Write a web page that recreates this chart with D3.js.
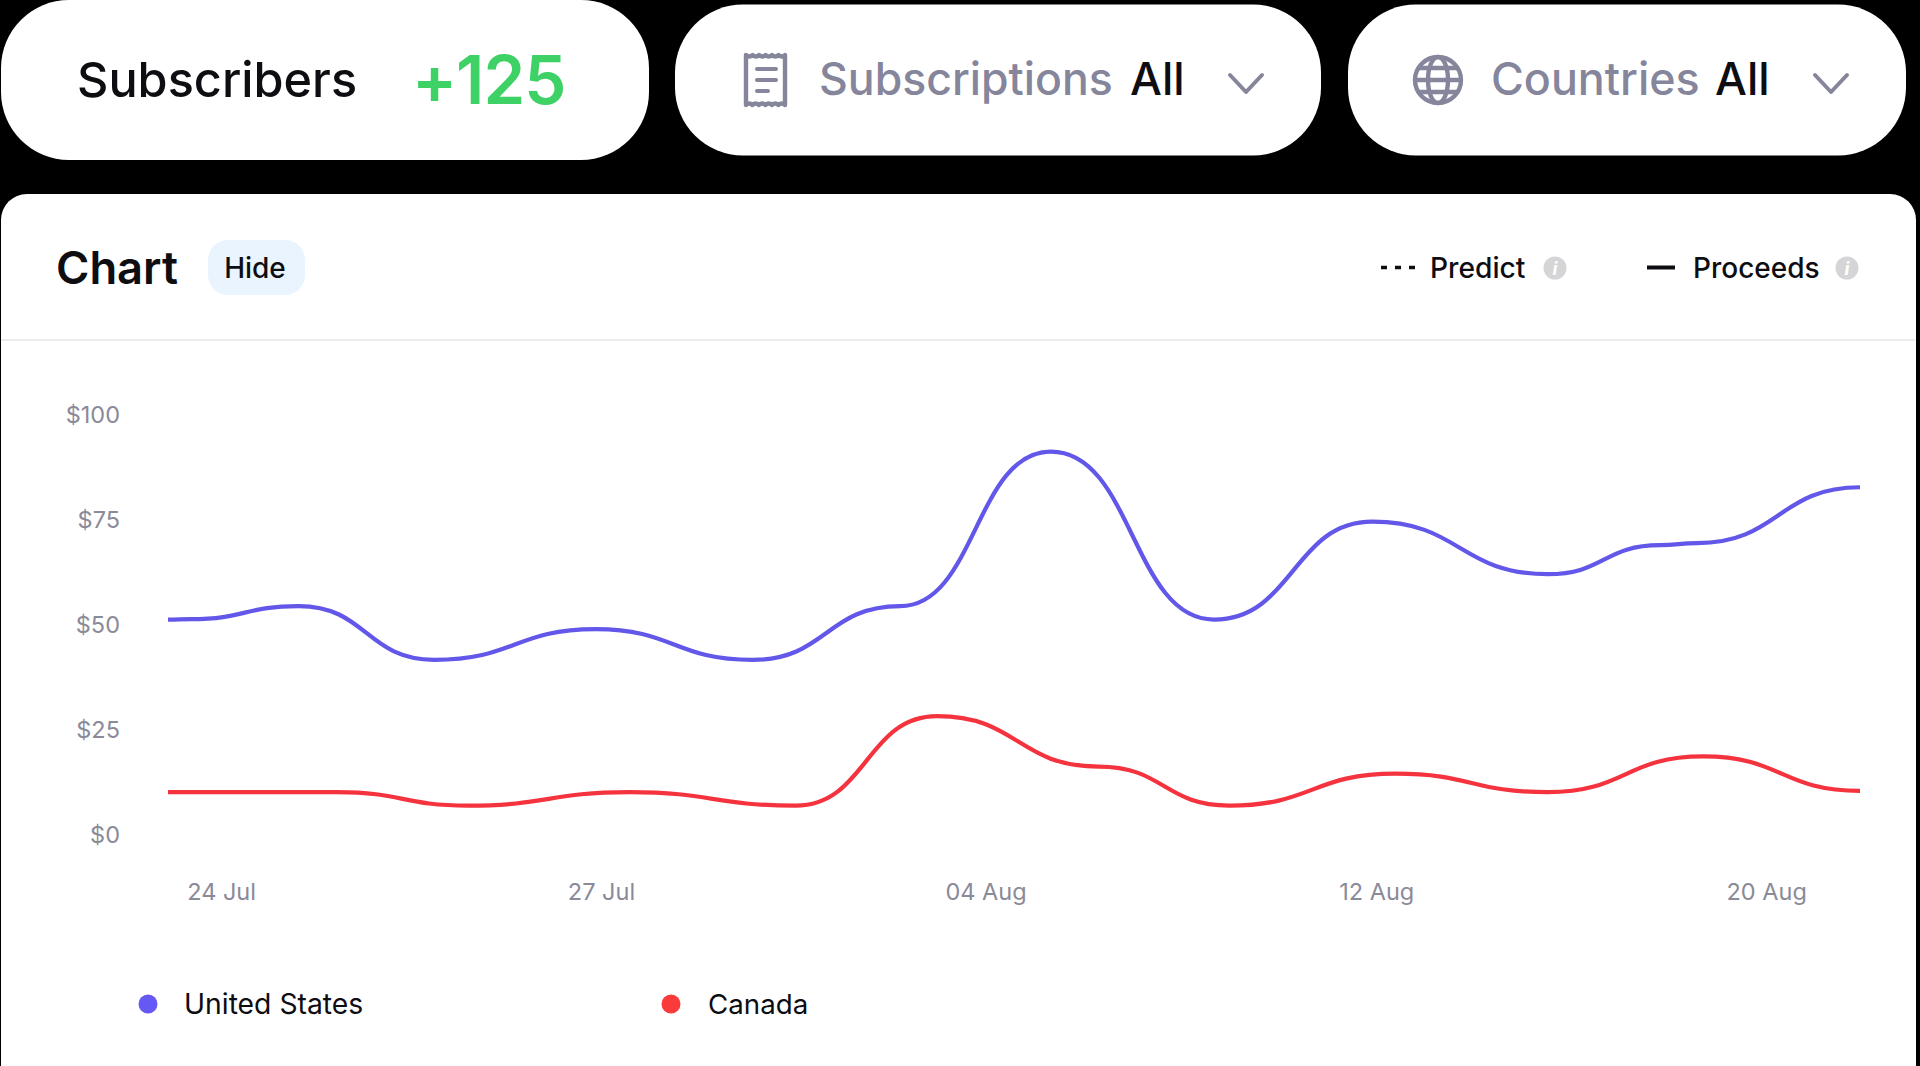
<!DOCTYPE html>
<html><head><meta charset="utf-8">
<script src="https://cdn.jsdelivr.net/npm/d3@7"></script>
<style>
html,body{margin:0;padding:0;background:#000;overflow:hidden}
svg{display:block}
text{font-family:Inter,"Noto Sans",sans-serif}
.axis path,.axis line{display:none}
</style></head><body>
<svg id="c" width="1920" height="1066"></svg>
<script>
const usSteps = [0, 0.15, 0.85, 1.73, 2.78, 3.8, 4.76, 5.74, 6.8, 7.83, 8.97, 9.7, 9.94, 11];
const usValues = [51.3, 51.4, 54.5, 41.7, 49, 41.7, 54.5, 91.3, 51.3, 74.6, 62.1, 69.0, 69.5, 82.8];
const caSteps = [0, 1.1, 1.95, 3.0, 4.08, 5.0, 6.05, 6.9, 7.98, 8.97, 9.98, 11];
const caValues = [10.2, 10.2, 7, 10.2, 7, 28.3, 16.3, 7, 14.6, 10.2, 18.7, 10.5];
const yTicks = [0, 25, 50, 75, 100];
const xTickSteps = [0.345, 2.815, 5.315, 7.855, 10.39];
const xTickLabels = ["24 Jul", "27 Jul", "04 Aug", "12 Aug", "20 Aug"];
const seriesNames = ["United States", "Canada"];
const seriesColors = ["#6257e8", "#f5333f"];

const svg = d3.select("#c");
const INK = "#0d0d12", GREY = "#85859b", AXIS = "#8a8a99";
const txt = (x, y, s, size, weight, fill, anchor) => svg.append("text")
  .attr("x", x).attr("y", y).attr("font-size", size).attr("font-weight", weight)
  .attr("fill", fill).attr("text-anchor", anchor || "start").text(s);
const box = (x, y, w, h, r, fill) => svg.append("rect")
  .attr("x", x).attr("y", y).attr("width", w).attr("height", h).attr("rx", r).attr("fill", fill);

// Header pills
box(1, 0, 648, 160, 68, "#fff");
box(675, 4.5, 646, 151, 68, "#fff");
box(1348, 4.5, 558, 151, 68, "#fff");
txt(77, 97, "Subscribers", 48.6, 500, INK);
txt(412, 103.5, "+125", 67, 600, "#3ed266").attr("letter-spacing", -1);
txt(819, 95, "Subscriptions", 44.6, 500, GREY);
txt(1130, 95, "All", 45, 500, INK);
txt(1491, 95, "Countries", 44.8, 500, GREY);
txt(1715, 95, "All", 45, 500, INK);

// Receipt icon
svg.append("path").attr("fill", "none").attr("stroke", GREY).attr("stroke-width", 4.4).attr("stroke-linejoin", "round")
  .attr("d", "M746 55q3.5 3 6.5 0q3.5 3 6.5 0q3.5 3 6.5 0q3.5 3 6.5 0q3.5 3 6.5 0q3.5 3 6.5 0V105q-3.5 -3 -6.5 0q-3.5 -3 -6.5 0q-3.5 -3 -6.5 0q-3.5 -3 -6.5 0q-3.5 -3 -6.5 0q-3.5 -3 -6.5 0Z");
svg.append("path").attr("fill", "none").attr("stroke", GREY).attr("stroke-width", 4).attr("stroke-linecap", "round")
  .attr("d", "M757 69H776M757 80H776M757 91H768");
// Globe icon
const globe = svg.append("g").attr("fill", "none").attr("stroke", GREY).attr("stroke-width", 4.4);
globe.append("circle").attr("cx", 1438).attr("cy", 80).attr("r", 23);
globe.append("ellipse").attr("cx", 1438).attr("cy", 80).attr("rx", 10).attr("ry", 23);
globe.append("path").attr("d", "M1415 80H1461M1419 68H1457M1419 92H1457");
// Chevrons
[1246, 1831].forEach(cx => svg.append("path").attr("fill", "none").attr("stroke", GREY)
  .attr("stroke-width", 4).attr("stroke-linecap", "round").attr("stroke-linejoin", "round")
  .attr("d", `M${cx-16} 75L${cx} 92L${cx+16} 75`));

// Card
box(1, 194, 1915, 900, 26, "#fff");
svg.append("line").attr("x1", 1).attr("x2", 1915).attr("y1", 340).attr("y2", 340).attr("stroke", "#ececee").attr("stroke-width", 2);
txt(56, 283.5, "Chart", 45.3, 600, INK);
box(208, 240, 97, 55, 20, "#e9f4fe");
txt(255, 278, "Hide", 28, 500, INK, "middle");

// Top legend
svg.append("line").attr("x1", 1381).attr("x2", 1415).attr("y1", 267.5).attr("y2", 267.5)
  .attr("stroke", INK).attr("stroke-width", 3.4).attr("stroke-dasharray", "6 8");
txt(1430, 278, "Predict", 28.2, 500, INK);
svg.append("line").attr("x1", 1647).attr("x2", 1675).attr("y1", 267.5).attr("y2", 267.5)
  .attr("stroke", INK).attr("stroke-width", 4);
txt(1693, 278, "Proceeds", 28, 500, INK);
[1555, 1847].forEach(cx => {
  svg.append("circle").attr("cx", cx).attr("cy", 268).attr("r", 11.5).attr("fill", "#d5d5d7");
  txt(cx, 275, "i", 18, 700, "#fff", "middle").attr("font-style", "italic");
});

// Chart
const x = d3.scaleLinear().domain([0, 11]).range([168, 1860]);
const y = d3.scaleLinear().domain([0, 100]).range([835, 415]);
const gx = svg.append("g").attr("class", "axis").attr("transform", "translate(0,875)")
  .call(d3.axisBottom(x).tickValues(xTickSteps).tickFormat((d, i) => xTickLabels[i]).tickSize(0).tickPadding(8));
gx.selectAll("text").attr("font-size", 23.5).attr("font-family", "Inter").attr("fill", AXIS);
const gy = svg.append("g").attr("class", "axis").attr("transform", "translate(120,0)")
  .call(d3.axisLeft(y).tickValues(yTicks).tickFormat(d => "$" + d).tickSize(0).tickPadding(0));
gy.selectAll("text").attr("font-size", 23.5).attr("font-family", "Inter").attr("fill", AXIS);

const line = d3.line().x(d => x(d[0])).y(d => y(d[1])).curve(d3.curveBumpX);
[[usSteps, usValues], [caSteps, caValues]].forEach(([s, v], k) => {
  svg.append("path").datum(s.map((t, i) => [t, v[i]]))
    .attr("fill", "none").attr("stroke", seriesColors[k]).attr("stroke-width", 4.2).attr("d", line);
});

// Bottom legend
const legX = d3.scaleOrdinal().domain(seriesNames).range([148, 671]);
seriesNames.forEach((n, k) => {
  svg.append("circle").attr("cx", legX(n)).attr("cy", 1004).attr("r", 9.5)
    .attr("fill", k ? "#f93b3b" : "#6558f5");
  txt(legX(n) + (k ? 37 : 36), 1014, n, k ? 27.7 : 28.3, 400, INK);
});
</script></body></html>
